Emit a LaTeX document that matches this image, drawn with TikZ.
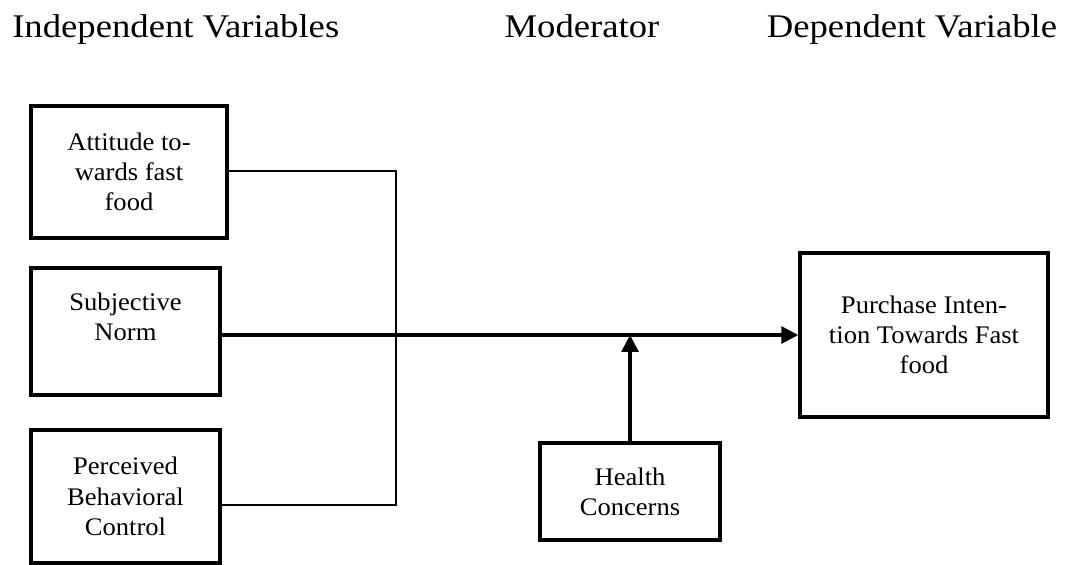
\documentclass[tikz,border=0pt]{standalone}
\usepackage{fontspec}
\setmainfont{Liberation Serif}[FakeStretch=1.05]
\newfontfamily\headfont{Liberation Serif}[FakeStretch=1.11]
\usetikzlibrary{positioning, arrows.meta, calc}

\begin{document}
\begin{tikzpicture}[
        x=0.025cm, y=-0.025cm,
        >={Triangle[length=12pt, width=12pt]},
        var/.style={draw, line width=2.4pt, align=center, inner sep=0pt, font=\fontsize{18}{21.5}\selectfont},
        head/.style={inner sep=0pt, font=\headfont\fontsize{23.5}{28}\selectfont},
        link/.style={line width=1pt},
        flow/.style={line width=2.2pt, ->},
    ]
    \useasboundingbox (0,0) rectangle (1065,565);

        % Draw the headings
        \node[head, anchor=base west] (H-IV) at (12,38) {Independent Variables};
        \node[head, anchor=base] (H-M) at (582,38) {Moderator};
        \node[head, anchor=base] (H-DV) at (912,38) {Dependent Variable};

        % Draw the independent variables
        \node[var, minimum width=4.9cm, minimum height=3.3cm] (I-1) at (129,172) {Attitude to-\\wards fast\\food};
        \node[var, minimum width=4.725cm, minimum height=3.175cm] (I-2) at (125.5,331.5) {Subjective\\Norm\\~};
        \node[var, minimum width=4.725cm, minimum height=3.325cm] (I-3) at (125.5,496.5) {Perceived\\Behavioral\\Control};

        % Draw the moderator and the dependent variable
        \node[var, minimum width=4.5cm, minimum height=2.425cm] (M-1) at (630,491.5) {Health\\Concerns};
        \node[var, minimum width=6.2cm, minimum height=4.1cm] (O-1) at (924,335) {Purchase Inten-\\tion Towards Fast\\food};

        % Join the first and the last independent variable
        \coordinate (J-1) at (396,171);
        \coordinate (J-3) at (396,505);
        \draw[link] (I-1.east |- J-1) -- (J-1) -- (J-3) -- (I-3.east |- J-3);

        % Connect the independent variables with the dependent variable
        \coordinate (M-in) at (M-1.north |- O-1.west);
        \draw[flow] (I-2.east |- O-1.west) -- (O-1.west);
        \draw[flow] (M-1.north) -- (M-in);
\end{tikzpicture}
\end{document}
